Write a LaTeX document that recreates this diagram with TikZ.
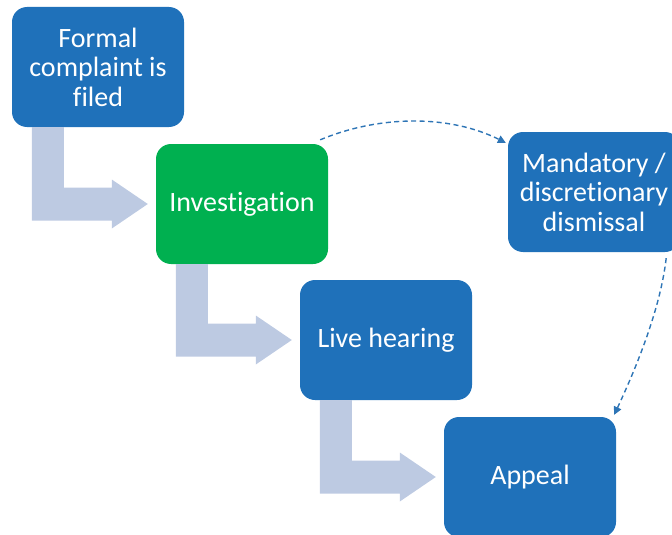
\documentclass[tikz,border=0pt]{standalone}
\usepackage{fontspec}
\setmainfont{Carlito}[Ligatures=NoCommon]
\usetikzlibrary{calc,arrows.meta}
\definecolor{boxblue}{RGB}{31,113,186}
\definecolor{boxgreen}{RGB}{0,176,80}
\definecolor{arrowgray}{RGB}{189,202,226}
\definecolor{dashblue}{RGB}{46,117,182}
\tikzset{
  stepbox/.style={draw=none, fill=boxblue, rounded corners=15pt, minimum width=172pt, minimum height=120pt,
    text=white, align=center, inner sep=0pt, font=\fontsize{28}{29.5}\selectfont},
  greenbox/.style={stepbox, fill=boxgreen},
  dashconn/.style={dashblue, line width=1.4pt, dash pattern=on 5pt off 3.5pt, -{Triangle[length=8pt,width=8pt]}},
}
\newcommand{\bentarrow}[2]{%
  \fill[arrowgray] let \p1=(#1.south west), \p2=(#2.west) in
    (\x1+20pt,\y1) -- (\x1+52pt,\y1) -- (\x1+52pt,\y2+16.5pt) -- (\x2-44pt,\y2+16.5pt)
    -- (\x2-44pt,\y2+24.5pt) -- (\x2-8pt,\y2) -- (\x2-44pt,\y2-24.5pt) -- (\x2-44pt,\y2-16.5pt)
    -- (\x1+20pt,\y2-16.5pt) -- cycle;}
\begin{document}
\begin{tikzpicture}[x=1pt,y=-1pt]
\useasboundingbox (0,0) rectangle (672,535);
\node[stepbox] (b1) at (98,67) {Formal\\complaint is\\filed};
\node[greenbox] (b2) at (242,204) {Investigation};
\node[stepbox] (b3) at (386,340) {Live hearing};
\node[stepbox] (b4) at (530,477) {Appeal};
\node[stepbox] (b5) at (594,192) {Mandatory /\\discretionary\\dismissal};
\bentarrow{b1}{b2}
\bentarrow{b2}{b3}
\bentarrow{b3}{b4}
\draw[dashconn] ($(b2.north east)+(-8,-4)$) .. controls ($(b2.north east)+(52,-29)$) and ($(b5.north west)+(-58,-17)$) .. ($(b5.north west)+(-2,11)$);
\draw[dashconn] ($(b5.south east)+(-14,6)$) .. controls ($(b5.south east)+(-20,58)$) and ($(b4.north east)+(19,-47)$) .. ($(b4.north east)+(-2,-2)$);
\end{tikzpicture}
\end{document}
